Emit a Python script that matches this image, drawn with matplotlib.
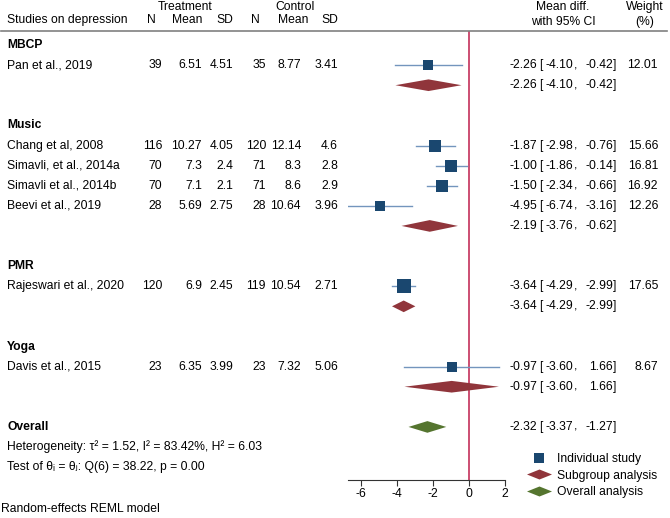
import matplotlib.pyplot as plt
from matplotlib.lines import Line2D
from matplotlib.transforms import blended_transform_factory

plt.rcParams['font.family'] = ['Liberation Sans', 'DejaVu Sans']
plt.rcParams['font.size'] = 8.7
plt.rcParams['axes.unicode_minus'] = False

# data
groups = ['MBCP', 'Music', 'PMR', 'Yoga']
study_group = [0, 1, 1, 1, 1, 2, 3]
studies = ['Pan et al., 2019', 'Chang et al, 2008', 'Simavli, et al., 2014a',
           'Simavli et al., 2014b', 'Beevi et al., 2019', 'Rajeswari et al., 2020',
           'Davis et al., 2015']
n_trt = [39, 116, 70, 70, 28, 120, 23]
mean_trt = [6.51, 10.27, 7.3, 7.1, 5.69, 6.9, 6.35]
sd_trt = [4.51, 4.05, 2.4, 2.1, 2.75, 2.45, 3.99]
n_ctl = [35, 120, 71, 71, 28, 119, 23]
mean_ctl = [8.77, 12.14, 8.3, 8.6, 10.64, 10.54, 7.32]
sd_ctl = [3.41, 4.6, 2.8, 2.9, 3.96, 2.71, 5.06]
es = [-2.26, -1.87, -1.00, -1.50, -4.95, -3.64, -0.97]
lo = [-4.10, -2.98, -1.86, -2.34, -6.74, -4.29, -3.60]
hi = [-0.42, -0.76, -0.14, -0.66, -3.16, -2.99, 1.66]
weight = [12.01, 15.66, 16.81, 16.92, 12.26, 17.65, 8.67]
grp_es = [-2.26, -2.19, -3.64, -0.97]
grp_lo = [-4.10, -3.76, -4.29, -3.60]
grp_hi = [-0.42, -0.62, -2.99, 1.66]
overall_es, overall_lo, overall_hi = -2.32, -3.37, -1.27
het_text = 'Heterogeneity: τ² = 1.52, I² = 83.42%, H² = 6.03'
test_text = 'Test of θᵢ = θⱼ: Q(6) = 38.22, p = 0.00'
xticks = [-6, -4, -2, 0, 2]

navy = '#1a476f'
maroon = '#90353b'
green = '#55752f'
ci_col = '#7395bd'
red = '#bf1e4b'

W, H = 670, 518
fig = plt.figure(figsize=(W / 100, H / 100), dpi=100)
ax = fig.add_axes([348 / W, 38 / H, 157 / W, 449 / H])
ax.set_xlim(min(lo), 2)
ax.set_ylim(21.64, -0.697)
tr = blended_transform_factory(fig.transFigure, ax.transData)


def put(xpx, y, s, ha='left', **kw):
    ax.text(xpx / W, y, s, transform=tr, ha=ha, va='center', clip_on=False, **kw)


def put_ci(y, e, l, h):
    put(537, y, f'{e:.2f}', 'right')
    put(539, y, '[')
    put(573.5, y, f'{l:.2f}', 'right')
    put(574, y, ',')
    put(613, y, f'{h:.2f}', 'right')
    put(613.3, y, ']')


def diamond(e, l, h, y, col):
    hh = 0.29
    ax.fill([l, e, h, e], [y, y - hh, y, y + hh], color=col, lw=0, zorder=3)


# header
put(7, -1.24, 'Studies on depression')
put(185.5, -1.9, 'Treatment', 'center')
put(295, -1.9, 'Control', 'center')
for xp, s in [(156, 'N'), (202, 'Mean'), (233, 'SD'), (260, 'N'), (308, 'Mean'), (338, 'SD')]:
    put(xp, -1.24, s, 'right')
put(563, -1.9, 'Mean diff.', 'center')
put(563, -1.16, 'with 95% CI', 'center')
put(645, -1.9, 'Weight', 'center')
put(645, -1.16, '(%)', 'center')
fig.add_artist(Line2D([1 / W, 667 / W], [1 - 31 / H, 1 - 31 / H],
                      transform=fig.transFigure, color='#808080', lw=1.2))

# rows
k = 0
for g, name in enumerate(groups):
    put(7, k, name, fontweight='bold')
    k += 1
    for i in range(len(studies)):
        if study_group[i] != g:
            continue
        put(7, k, studies[i])
        for xp, v in [(162, n_trt[i]), (202, mean_trt[i]), (233, sd_trt[i]),
                      (266, n_ctl[i]), (301, mean_ctl[i]), (338, sd_ctl[i])]:
            put(xp, k, str(v), 'right')
        put_ci(k, es[i], lo[i], hi[i])
        put(658, k, f'{weight[i]:.2f}', 'right')
        ax.plot([lo[i], hi[i]], [k, k], color=ci_col, lw=1, zorder=2)
        ax.plot(es[i], k, 's', color=navy, mew=0, ms=2.25 * weight[i] ** 0.5, zorder=3)
        k += 1
    diamond(grp_es[g], grp_lo[g], grp_hi[g], k, maroon)
    put_ci(k, grp_es[g], grp_lo[g], grp_hi[g])
    k += 2

put(7, k, 'Overall', fontweight='bold')
diamond(overall_es, overall_lo, overall_hi, k, green)
put_ci(k, overall_es, overall_lo, overall_hi)
put(7, k + 1, het_text)
put(7, k + 2, test_text)
put(1, 23.1, 'Random-effects REML model')

ax.axvline(0, color=red, lw=1.1, zorder=1)

ax.set_xticks(xticks)
ax.set_yticks([])
for s in ['top', 'left', 'right']:
    ax.spines[s].set_visible(False)
ax.spines['bottom'].set_color('#333333')
ax.spines['bottom'].set_linewidth(0.8)
ax.tick_params(axis='x', length=4, width=0.8, color='#333333', pad=2)
ax.patch.set_alpha(0)

dverts = [(-1, 0), (0, 0.4), (1, 0), (0, -0.4), (-1, 0)]
handles = [Line2D([], [], ls='', marker='s', color=navy, mew=0, ms=7.2),
           Line2D([], [], ls='', marker=dverts, color=maroon, mew=0, ms=18),
           Line2D([], [], ls='', marker=dverts, color=green, mew=0, ms=18)]
ax.legend(handles, ['Individual study', 'Subgroup analysis', 'Overall analysis'],
          loc='upper left', bbox_to_anchor=(527 / W, 1 - 453 / H),
          bbox_transform=fig.transFigure, frameon=False, borderpad=0,
          borderaxespad=0, handlelength=2, handletextpad=0.5, labelspacing=0.38)

fig.savefig('out.png', dpi=100)
